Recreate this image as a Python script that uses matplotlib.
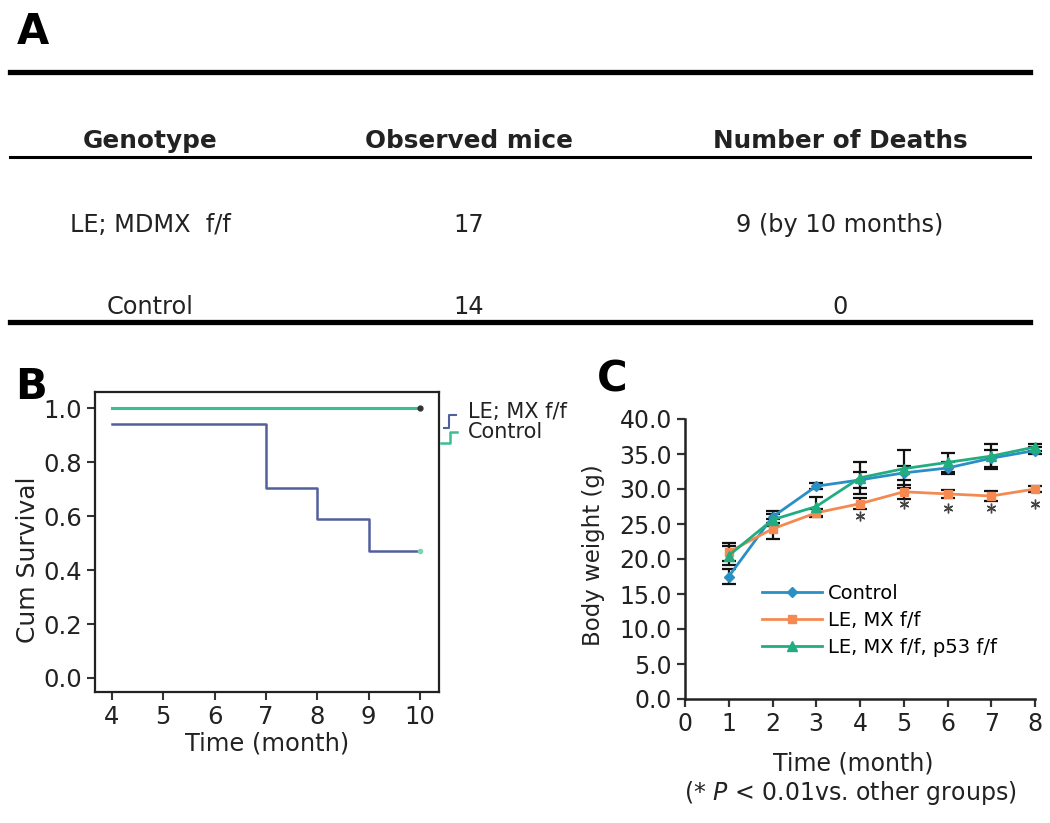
import matplotlib
matplotlib.use("Agg")
import matplotlib.pyplot as plt
from matplotlib.lines import Line2D

plt.rcParams['font.family'] = ['DejaVu Sans']

# ---------------- data ----------------
# Panel A table
table_headers = ["Genotype", "Observed mice", "Number of Deaths"]
table_rows = [["LE; MDMX  f/f", "17", "9 (by 10 months)"],
              ["Control", "14", "0"]]

# Panel B Kaplan-Meier
km_le_times = [4, 7, 8, 9, 10]
km_le_surv = [0.941, 0.706, 0.588, 0.471, 0.471]
km_ctrl_times = [4, 10]
km_ctrl_surv = [1.0, 1.0]
km_labels = ["LE; MX f/f", "Control"]
km_xticks = [4, 5, 6, 7, 8, 9, 10]
km_yticks = [0.0, 0.2, 0.4, 0.6, 0.8, 1.0]

# Panel C body weight
months = [1, 2, 3, 4, 5, 6, 7, 8]
bw_control = [17.5, 26.0, 30.4, 31.3, 32.3, 33.0, 34.4, 35.5]
bw_control_err = [1.1, 0.8, 0.4, 1.2, 1.0, 0.8, 1.2, 0.5]
bw_le = [21.0, 24.3, 26.6, 27.9, 29.6, 29.3, 29.0, 30.0]
bw_le_err = [1.3, 1.4, 0.6, 0.8, 1.0, 0.6, 0.7, 0.4]
bw_p53 = [20.5, 25.6, 27.5, 31.6, 32.9, 33.8, 34.7, 36.0]
bw_p53_err = [1.4, 0.9, 1.3, 2.3, 2.7, 1.3, 1.8, 0.5]
bw_labels = ["Control", "LE, MX f/f", "LE, MX f/f, p53 f/f"]
star_months = [4, 5, 6, 7, 8]
star_y = [26.1, 27.8, 27.3, 27.3, 27.8]
bw_xticks = [0, 1, 2, 3, 4, 5, 6, 7, 8]
bw_yticks = [0, 5, 10, 15, 20, 25, 30, 35, 40]

W, H = 1050, 823
fig = plt.figure(figsize=(W / 100, H / 100), dpi=100)


def fx(x):
    return x / W


def fy(y):
    return 1 - y / H


TXT = "#222222"

# ---------------- Panel A ----------------
fig.text(fx(33), fy(32), "A", fontsize=30, fontweight='bold', ha='center', va='center', color='black')
for yy, lw in [(72, 3.8), (157, 2.2), (322, 3.8)]:
    fig.add_artist(Line2D([fx(10), fx(1030)], [fy(yy), fy(yy)], color='black', lw=lw,
                          transform=fig.transFigure))
col_x = [150, 469, 840]
for cx, h in zip(col_x, table_headers):
    fig.text(fx(cx), fy(148), h, fontsize=17.8, fontweight='bold', ha='center', va='baseline', color=TXT)
for ry, row in zip([232, 314], table_rows):
    for cx, val in zip(col_x, row):
        fig.text(fx(cx), fy(ry), val, fontsize=17.3, ha='center', va='baseline', color=TXT)

# ---------------- Panel B ----------------
axB = fig.add_axes([fx(95), fy(692), fx(439 - 95), (692 - 392) / H])
axB.step(km_ctrl_times, km_ctrl_surv, where='post', color='#3cbf8e', lw=2.2, zorder=3)
axB.step(km_le_times, km_le_surv, where='post', color='#52609e', lw=1.8, zorder=3)
axB.plot([km_ctrl_times[-1]], [km_ctrl_surv[-1]], marker='o', ms=3.5, color='#333333', zorder=4)
axB.plot([km_le_times[-1]], [km_le_surv[-1]], marker='o', ms=3, color='#7fd3b0', zorder=4)
axB.set_xlim(3.67, 10.37)
axB.set_ylim(-0.052, 1.06)
axB.set_xticks(km_xticks)
axB.set_yticks(km_yticks)
axB.set_yticklabels([f"{v:.1f}" for v in km_yticks])
axB.tick_params(axis='both', direction='out', length=6, width=1.5, labelsize=17.5, colors='#333333',
                labelcolor=TXT)
for s in axB.spines.values():
    s.set_linewidth(1.6)
    s.set_color('#222222')
axB.set_ylabel("Cum Survival", fontsize=18, color=TXT)
axB.yaxis.set_label_coords(-0.16, 0.44)
axB.set_xlabel("Time (month)", fontsize=17.4, color=TXT)
axB.xaxis.set_label_coords(0.5, -0.13)
fig.text(fx(31), fy(387), "B", fontsize=30, fontweight='bold', ha='center', va='center', color='black')

# KM legend (bracket style)
fig.add_artist(Line2D([fx(444), fx(449), fx(449), fx(456)], [fy(428), fy(428), fy(415), fy(415)],
                      color='#52609e', lw=1.5, transform=fig.transFigure))
fig.add_artist(Line2D([fx(441), fx(450), fx(450), fx(457)], [fy(443), fy(443), fy(432), fy(432)],
                      color='#3cbf8e', lw=1.8, transform=fig.transFigure))
fig.text(fx(468), fy(412), km_labels[0], fontsize=15, ha='left', va='center', color=TXT)
fig.text(fx(468), fy(432), km_labels[1], fontsize=15, ha='left', va='center', color=TXT)

# ---------------- Panel C ----------------
axC = fig.add_axes([fx(685), fy(699), fx(1035 - 685), (699 - 419) / H])
series = [(bw_control, bw_control_err, '#2a8fc4', 'D', 5),
          (bw_le, bw_le_err, '#f48a52', 's', 5.5),
          (bw_p53, bw_p53_err, '#22ad80', '^', 6.5)]
handles = []
for (vals, errs, col, mk, ms), lab in zip(series, bw_labels):
    axC.errorbar(months, vals, yerr=errs, fmt='none', ecolor='#111111', elinewidth=1.6,
                 capsize=5, capthick=1.6, zorder=2, clip_on=False)
    ln, = axC.plot(months, vals, color=col, marker=mk, ms=ms, lw=2, label=lab, zorder=3,
                   clip_on=False)
    handles.append(ln)
axC.plot(star_months, star_y, ls='none', marker=(6, 2, 0), ms=7, mew=1.0, color='#444444',
         clip_on=False, zorder=4)
axC.set_xlim(0, 8)
axC.set_ylim(0, 40)
axC.set_xticks(bw_xticks)
axC.set_yticks(bw_yticks)
axC.set_yticklabels([f"{v:.1f}" for v in bw_yticks])
axC.spines['top'].set_visible(False)
axC.spines['right'].set_visible(False)
for s in ['left', 'bottom']:
    axC.spines[s].set_linewidth(1.8)
    axC.spines[s].set_color('#222222')
axC.tick_params(axis='both', direction='out', length=6, width=1.6, labelsize=17, colors='#333333',
                labelcolor=TXT)
axC.set_ylabel("Body weight (g)", fontsize=16.5, color=TXT)
axC.yaxis.set_label_coords(-0.229, 0.514)
axC.set_xlabel("Time (month)", fontsize=17, color=TXT)
axC.xaxis.set_label_coords(0.48, -0.186)
fig.text(fx(850), fy(793), r"(* $\it{P}$ < 0.01vs. other groups)", fontsize=17, ha='center',
         va='center', color=TXT)
fig.text(fx(612), fy(380), "C", fontsize=30, fontweight='bold', ha='center', va='center', color='black')
axC.legend(handles=handles, loc='upper left', bbox_to_anchor=(fx(762), fy(584)),
           bbox_transform=fig.transFigure, frameon=False, fontsize=14, handlelength=3.1,
           handletextpad=0.3, labelspacing=0.4, borderpad=0, borderaxespad=0, numpoints=1)

fig.savefig("out.png", dpi=100)
